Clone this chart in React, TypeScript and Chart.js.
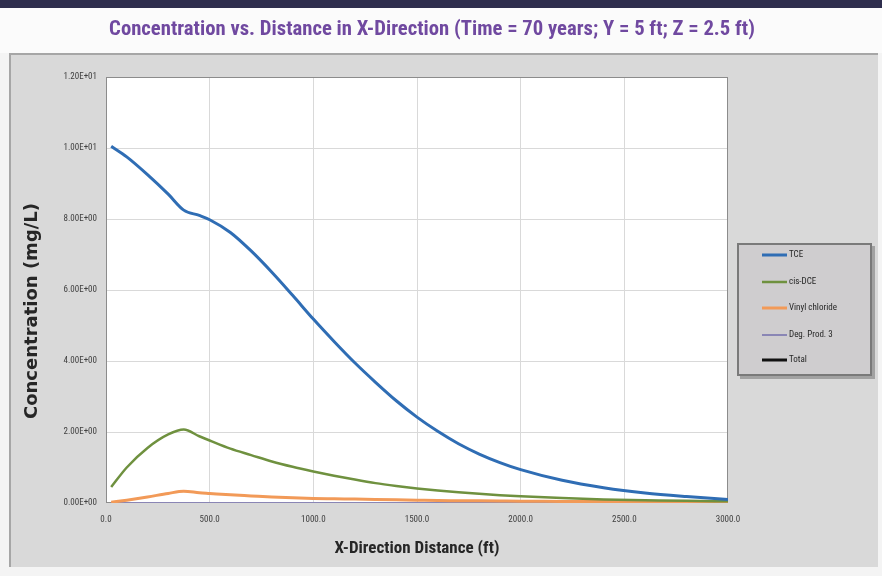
import React, { useEffect, useRef } from "react";
import { Chart, registerables } from "chart.js";

Chart.register(...registerables);

const TITLE = "Concentration vs. Distance in X-Direction (Time = 70 years; Y = 5 ft; Z = 2.5 ft)";
const X_TITLE = "X-Direction Distance (ft)";
const Y_TITLE = "Concentration (mg/L)";

const distanceFt = [25, 100, 200, 300, 375, 450, 500, 600, 700, 800, 900, 1000, 1100, 1200, 1300, 1400, 1500, 1600, 1700, 1800, 1900, 2000, 2200, 2400, 2600, 2800, 3000];
const tce = [10.05, 9.75, 9.25, 8.7, 8.25, 8.1, 7.98, 7.62, 7.1, 6.5, 5.85, 5.18, 4.55, 3.95, 3.4, 2.88, 2.42, 2.02, 1.67, 1.38, 1.14, 0.94, 0.64, 0.43, 0.28, 0.18, 0.1];
const cisDce = [0.45, 1.0, 1.55, 1.93, 2.07, 1.88, 1.76, 1.53, 1.35, 1.17, 1.02, 0.89, 0.77, 0.66, 0.56, 0.48, 0.41, 0.35, 0.3, 0.26, 0.22, 0.19, 0.14, 0.1, 0.08, 0.06, 0.05];
const vinylChloride = [0.02, 0.08, 0.17, 0.27, 0.33, 0.29, 0.27, 0.23, 0.2, 0.17, 0.15, 0.13, 0.12, 0.11, 0.1, 0.09, 0.08, 0.07, 0.065, 0.06, 0.055, 0.05, 0.045, 0.04, 0.035, 0.03, 0.03];
const degProd3 = [0, 0, 0, 0, 0, 0, 0, 0, 0, 0, 0, 0, 0, 0, 0, 0, 0, 0, 0, 0, 0, 0, 0, 0, 0, 0, 0];
const total: number[] = [];

const seriesLabels = ["TCE", "cis-DCE", "Vinyl chloride", "Deg. Prod. 3", "Total"];
const seriesColors = ["#2f6db4", "#6f913f", "#f29a58", "#8a86b5", "#111111"];
const seriesWidths = [3, 2.5, 3, 2, 3];

const NARROW = '"Liberation Sans Narrow", "Roboto Condensed", "Liberation Sans", sans-serif';

function fmtExp(v: number): string {
  const s = Number(v).toExponential(2);
  const [m, e] = s.split("e");
  const n = parseInt(e, 10);
  const sign = n < 0 ? "-" : "+";
  const abs = Math.abs(n).toString().padStart(2, "0");
  return `${m}E${sign}${abs}`;
}

const decorPlugin = {
  id: "decor",
  beforeDraw(chart: any) {
    const { ctx, width, height, chartArea } = chart;
    ctx.save();
    ctx.fillStyle = "#f4f4f4";
    ctx.fillRect(0, 0, width, height);
    ctx.fillStyle = "#fbfbfb";
    ctx.fillRect(0, 8, width, 45);
    ctx.fillStyle = "#2e2d4d";
    ctx.fillRect(0, 0, width, 8);
    // title
    ctx.fillStyle = "#7049a0";
    ctx.font = `bold 20.7px ${NARROW}`;
    ctx.textAlign = "center";
    ctx.textBaseline = "middle";
    ctx.fillText(TITLE, 432, 30);
    // panel
    ctx.fillStyle = "#d9d9d9";
    ctx.fillRect(9, 53, 869, 514);
    ctx.fillStyle = "#a6a6a6";
    ctx.fillRect(9, 53, 869, 2);
    ctx.fillRect(9, 53, 2, 514);
    // plot area
    ctx.fillStyle = "#ffffff";
    ctx.fillRect(chartArea.left, chartArea.top, chartArea.right - chartArea.left, chartArea.bottom - chartArea.top);
    ctx.restore();
  },
  beforeDatasetsDraw(chart: any) {
    const { ctx, chartArea } = chart;
    ctx.save();
    ctx.strokeStyle = "#8c8c8c";
    ctx.lineWidth = 1;
    ctx.strokeRect(chartArea.left + 0.5, chartArea.top + 0.5, chartArea.right - chartArea.left - 1, chartArea.bottom - chartArea.top - 1);
    ctx.restore();
  },
  afterDraw(chart: any) {
    const { ctx } = chart;
    ctx.save();
    // y title
    ctx.fillStyle = "#262626";
    ctx.font = 'bold 18px "DejaVu Sans", Verdana, sans-serif';
    ctx.textAlign = "center";
    ctx.textBaseline = "middle";
    ctx.translate(32, 311);
    ctx.rotate(-Math.PI / 2);
    ctx.fillText(Y_TITLE, 0, 0);
    ctx.restore();

    ctx.save();
    ctx.fillStyle = "#262626";
    ctx.font = `bold 17px ${NARROW}`;
    ctx.textAlign = "center";
    ctx.textBaseline = "middle";
    ctx.fillText(X_TITLE, 417, 549);
    ctx.restore();

    // legend
    ctx.save();
    ctx.fillStyle = "rgba(0,0,0,0.25)";
    ctx.fillRect(740, 246, 135, 133);
    ctx.fillStyle = "#cfcdcf";
    ctx.fillRect(737, 243, 135, 133);
    ctx.strokeStyle = "#7a7a7a";
    ctx.lineWidth = 2;
    ctx.strokeRect(738, 244, 133, 131);
    const ys = [255, 282, 308, 335, 360];
    chart.data.datasets.forEach((ds: any, i: number) => {
      const y = ys[i];
      ctx.strokeStyle = ds.borderColor;
      ctx.lineWidth = ds.borderWidth;
      ctx.beginPath();
      ctx.moveTo(762, y);
      ctx.lineTo(787, y);
      ctx.stroke();
      ctx.fillStyle = "#262626";
      ctx.font = `9px ${NARROW}`;
      ctx.textAlign = "left";
      ctx.textBaseline = "middle";
      ctx.fillText(ds.label, 789, y);
    });
    ctx.restore();
  },
};

export default function App() {
  const ref = useRef<HTMLCanvasElement | null>(null);
  useEffect(() => {
    if (!ref.current) return;
    const seriesValues = [tce, cisDce, vinylChloride, degProd3, total];
    const datasets = seriesValues.map((vals, i) => ({
      label: seriesLabels[i],
      data: vals.map((y, j) => ({ x: distanceFt[j], y })),
      borderColor: seriesColors[i],
      backgroundColor: seriesColors[i],
      borderWidth: seriesWidths[i],
      pointRadius: 0,
      cubicInterpolationMode: "monotone" as const,
      fill: false,
    }));
    const chart = new Chart(ref.current, {
      type: "line",
      data: { datasets },
      options: {
        responsive: false,
        animation: false,
        devicePixelRatio: 1,
        layout: { padding: { top: 77, right: 154, bottom: 0, left: 0 } },
        plugins: { legend: { display: false }, title: { display: false }, tooltip: { enabled: false } },
        scales: {
          x: {
            type: "linear",
            min: 0,
            max: 3000,
            afterFit: (s: any) => { s.height = 73; },
            grid: { color: "#d9d9d9", tickLength: 5 },
            border: { display: false },
            ticks: {
              stepSize: 500,
              padding: 6,
              color: "#404040",
              font: { family: NARROW, size: 9 },
              maxRotation: 0,
              callback: (v: any) => Number(v).toFixed(1),
            },
          },
          y: {
            type: "linear",
            min: 0,
            max: 12,
            afterFit: (s: any) => { s.width = 106; },
            grid: { color: "#d9d9d9", tickLength: 5 },
            border: { display: false },
            ticks: {
              stepSize: 2,
              padding: 4,
              color: "#404040",
              font: { family: NARROW, size: 9 },
              callback: (v: any) => fmtExp(Number(v)),
            },
          },
        },
      },
      plugins: [decorPlugin],
    });
    return () => chart.destroy();
  }, []);
  return (
    <div style={{ position: "fixed", left: 0, top: 0, width: 882, height: 576 }}>
      <canvas ref={ref} width={882} height={576} style={{ width: 882, height: 576, display: "block" }} />
    </div>
  );
}
